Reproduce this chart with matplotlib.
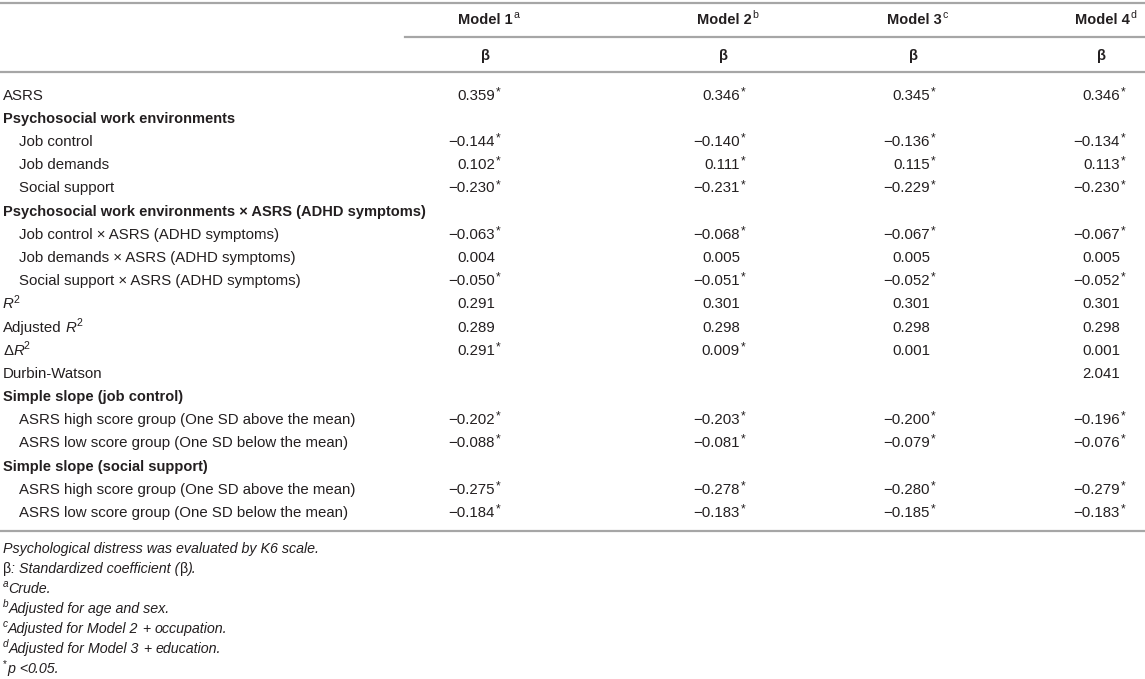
import matplotlib
matplotlib.use("Agg")
import matplotlib.pyplot as plt

plt.rcParams['font.family'] = ['Liberation Sans', 'DejaVu Sans']

# ---------------- data ----------------
model_names = ["Model 1", "Model 2", "Model 3", "Model 4"]
model_sups = ["a", "b", "c", "d"]
coef_label = "β"

# each label is a list of (text, style) runs; style: n=normal, b=bold, i=italic, s=superscript
row_labels = [
    [("ASRS", "n")],
    [("Psychosocial work environments", "b")],
    [("Job control", "n")],
    [("Job demands", "n")],
    [("Social support", "n")],
    [("Psychosocial work environments × ASRS (ADHD symptoms)", "b")],
    [("Job control × ASRS (ADHD symptoms)", "n")],
    [("Job demands × ASRS (ADHD symptoms)", "n")],
    [("Social support × ASRS (ADHD symptoms)", "n")],
    [("R", "i"), ("2", "s")],
    [("Adjusted", "n"), (" ", "n"), ("R", "i"), ("2", "s")],
    [("Δ", "n"), ("R", "i"), ("2", "s")],
    [("Durbin-Watson", "n")],
    [("Simple slope (job control)", "b")],
    [("ASRS high score group (One SD above the mean)", "n")],
    [("ASRS low score group (One SD below the mean)", "n")],
    [("Simple slope (social support)", "b")],
    [("ASRS high score group (One SD above the mean)", "n")],
    [("ASRS low score group (One SD below the mean)", "n")],
]
row_indent = [0, 0, 1, 1, 1, 0, 1, 1, 1, 0, 0, 0, 0, 0, 1, 1, 0, 1, 1]

model1 = [0.359, None, -0.144, 0.102, -0.230, None, -0.063, 0.004, -0.050,
          0.291, 0.289, 0.291, None, None, -0.202, -0.088, None, -0.275, -0.184]
model2 = [0.346, None, -0.140, 0.111, -0.231, None, -0.068, 0.005, -0.051,
          0.301, 0.298, 0.009, None, None, -0.203, -0.081, None, -0.278, -0.183]
model3 = [0.345, None, -0.136, 0.115, -0.229, None, -0.067, 0.005, -0.052,
          0.301, 0.298, 0.001, None, None, -0.200, -0.079, None, -0.280, -0.185]
model4 = [0.346, None, -0.134, 0.113, -0.230, None, -0.067, 0.005, -0.052,
          0.301, 0.298, 0.001, 2.041, None, -0.196, -0.076, None, -0.279, -0.183]

sig1 = [1, 0, 1, 1, 1, 0, 1, 0, 1, 0, 0, 1, 0, 0, 1, 1, 0, 1, 1]
sig2 = [1, 0, 1, 1, 1, 0, 1, 0, 1, 0, 0, 1, 0, 0, 1, 1, 0, 1, 1]
sig3 = [1, 0, 1, 1, 1, 0, 1, 0, 1, 0, 0, 0, 0, 0, 1, 1, 0, 1, 1]
sig4 = [1, 0, 1, 1, 1, 0, 1, 0, 1, 0, 0, 0, 0, 0, 1, 1, 0, 1, 1]

footnotes = [
    [("Psychological distress was evaluated by K6 scale.", "i")],
    [("β", "n"), (": Standardized coefficient (", "i"), ("β", "n"), (").", "i")],
    [("a", "si"), ("Crude.", "i")],
    [("b", "si"), ("Adjusted for age and sex.", "i")],
    [("c", "si"), ("Adjusted for Model 2 ", "i"), ("+", "n"), (" occupation.", "i")],
    [("d", "si"), ("Adjusted for Model 3 ", "i"), ("+", "n"), (" education.", "i")],
    [("*", "s"), ("p", "i"), (" <", "n"), ("0.05.", "i")],
]

# ---------------- layout ----------------
W, H = 1145, 679
fig = plt.figure(figsize=(W / 100, H / 100), dpi=100)
ax = fig.add_axes([0, 0, 1, 1])
ax.set_xlim(0, W)
ax.set_ylim(H, 0)
ax.axis("off")
renderer = fig.canvas.get_renderer()

FS = 10.8
FSB = 10.5
TXT = "#231f20"
LINE = "#a6a6a6"
BASE = 4.8  # baseline offset below row centre (px)


def draw_runs(x, y, runs, fs=FS):
    """Draw a sequence of styled text runs on one baseline starting at x."""
    sp = fs * 0.28 * 100 / 72
    for text, style in runs:
        kw = dict(ha="left", va="baseline", color=TXT, fontsize=fs)
        yy = y + BASE
        if style == "b":
            kw["fontweight"] = "bold"
            kw["fontsize"] = FSB
        elif style == "i":
            kw["fontstyle"] = "italic"
        elif style in ("s", "si"):
            kw["fontsize"] = fs * 0.7
            yy = y + BASE - 5.5
            if style == "si":
                kw["fontstyle"] = "italic"
        if text.strip() == "":
            x += sp * len(text)
            continue
        lead = len(text) - len(text.lstrip(" "))
        trail = len(text) - len(text.rstrip(" "))
        x += lead * sp
        t = ax.text(x, yy, text.strip(" "), **kw)
        bb = t.get_window_extent(renderer)
        x = bb.x1 + trail * sp
    return x


col_right = [495, 740, 930, 1120]
header_center = [485, 724, 914, 1102]

# rules
ax.plot([0, W], [3, 3], color=LINE, lw=1.6)
ax.plot([405, W], [37, 37], color=LINE, lw=1.6)
ax.plot([0, W], [72, 72], color=LINE, lw=1.6)
ax.plot([0, W], [531, 531], color=LINE, lw=1.6)

# header
for name, sup, xc in zip(model_names, model_sups, header_center):
    t = ax.text(xc, 19 + BASE, name, ha="center", va="baseline", fontsize=FSB,
                fontweight="bold", color=TXT)
    bb = t.get_window_extent(renderer)
    ax.text(bb.x1 + 1, 19 + BASE - 5.5, sup, ha="left", va="baseline",
            fontsize=FSB * 0.72, color=TXT)
    ax.text(xc, 55 + BASE, coef_label, ha="center", va="baseline", fontsize=FSB,
            fontweight="bold", color=TXT)

# body
y0, dy = 95, 23.17
models = [model1, model2, model3, model4]
sigs = [sig1, sig2, sig3, sig4]
for i, (runs, ind) in enumerate(zip(row_labels, row_indent)):
    y = y0 + i * dy
    draw_runs(19 if ind else 3, y, runs)
    for vals, sg, xr in zip(models, sigs, col_right):
        v = vals[i]
        if v is None:
            continue
        s = f"{abs(v):.3f}"
        if v < 0:
            s = "\u2212" + s
        ax.text(xr, y + BASE, s, ha="right", va="baseline", fontsize=FS, color=TXT)
        if sg[i]:
            ax.text(xr + 0.5, y + BASE - 4.5, "*", ha="left", va="baseline",
                    fontsize=FS * 0.8, color=TXT)

# footnotes
fy0, fdy = 548, 20
for j, fn in enumerate(footnotes):
    draw_runs(3, fy0 + j * fdy, fn, fs=10.3)

fig.savefig("out.png", dpi=100)
